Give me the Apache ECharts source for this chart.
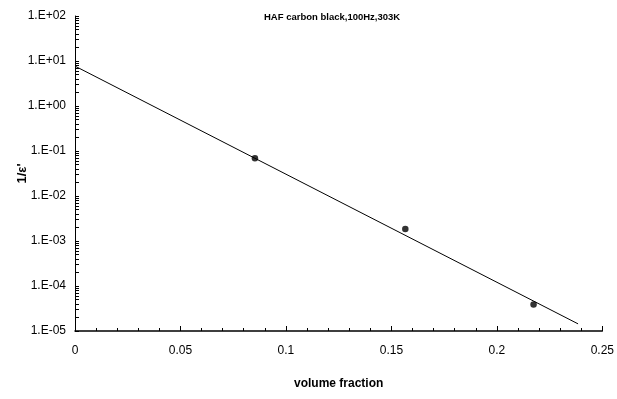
<!DOCTYPE html>
<html>
<head>
<meta charset="utf-8">
<script src="https://cdn.jsdelivr.net/npm/echarts@6/dist/echarts.min.js"></script>
<style>html,body{margin:0;padding:0;background:#fff;}#c{width:617px;height:399px;}</style>
</head>
<body>
<div id="c"></div>
<script>
// Measured points (volume fraction, 1/eps')
const pointX = [0.0853, 0.1566, 0.2174];
const pointY = [0.0687, 0.00185, 0.000039];
// Fitted line endpoints
const lineX = [0, 0.2385];
const lineY = [7.7, 0.0000144];
const titleText = 'HAF carbon black,100Hz,303K';
const xName = 'volume fraction';

const yTicks = [];
for (let e = -5; e < 2; e++) for (let m = 1; m <= 9; m++) yTicks.push(m * Math.pow(10, e));
yTicks.push(100);
const yLabels = [];
for (let e = -5; e <= 2; e++) yLabels.push(Math.pow(10, e));

function fmtE(v) {
  const e = Math.round(Math.log10(v));
  const s = e < 0 ? '-' : '+';
  const a = Math.abs(e);
  return '1.E' + s + (a < 10 ? '0' : '') + a;
}

const chart = echarts.init(document.getElementById('c'));
chart.setOption({
  animation: false,
  backgroundColor: '#fff',
  title: {
    text: titleText, left: 259, top: 7,
    textStyle: { fontFamily: 'Liberation Sans, Arial', fontSize: 9.5, fontWeight: 'bold', color: '#000' }
  },
  grid: { left: 75, right: 14, top: 16, bottom: 68 },
  xAxis: {
    type: 'value', min: 0, max: 0.25, interval: 0.05,
    name: xName, nameLocation: 'middle', nameGap: 47,
    nameTextStyle: { fontFamily: 'Liberation Sans, Arial', fontSize: 12, fontWeight: 'bold', color: '#000' },
    axisLine: { lineStyle: { color: '#000', width: 1.5 } },
    axisTick: { inside: true, length: 5, lineStyle: { color: '#000' } },
    minorTick: { show: true, splitNumber: 5, length: 3, lineStyle: { color: '#000' } },
    axisLabel: { color: '#000', fontFamily: 'Liberation Sans, Arial', fontSize: 12, margin: 14,
      formatter: v => String(+v.toFixed(2)) },
    splitLine: { show: false }
  },
  yAxis: {
    type: 'log', logBase: 10, min: 0.00001, max: 100,
    name: "1/ε'", nameLocation: 'middle', nameGap: 46, nameRotate: 90, nameMoveOverlap: false,
    nameTextStyle: { fontFamily: 'Liberation Sans, Arial', fontSize: 13, fontWeight: 'bold', color: '#000' },
    axisLine: { show: true, lineStyle: { color: '#000', width: 1 } },
    axisTick: { show: true, inside: true, length: 4, customValues: yTicks, lineStyle: { color: '#000' } },
    axisLabel: { color: '#000', fontFamily: 'Liberation Sans, Arial', fontSize: 12, margin: 9,
      customValues: yLabels, formatter: fmtE },
    splitLine: { show: false }
  },
  series: [
    {
      type: 'line', data: lineX.map((x, i) => [x, lineY[i]]),
      showSymbol: false, lineStyle: { color: '#000', width: 1 }, z: 2
    },
    {
      type: 'scatter', data: pointX.map((x, i) => [x, pointY[i]]),
      symbol: 'circle', symbolSize: 6.5, itemStyle: { color: '#000' }, z: 3
    }
  ]
});
</script>
</body>
</html>
